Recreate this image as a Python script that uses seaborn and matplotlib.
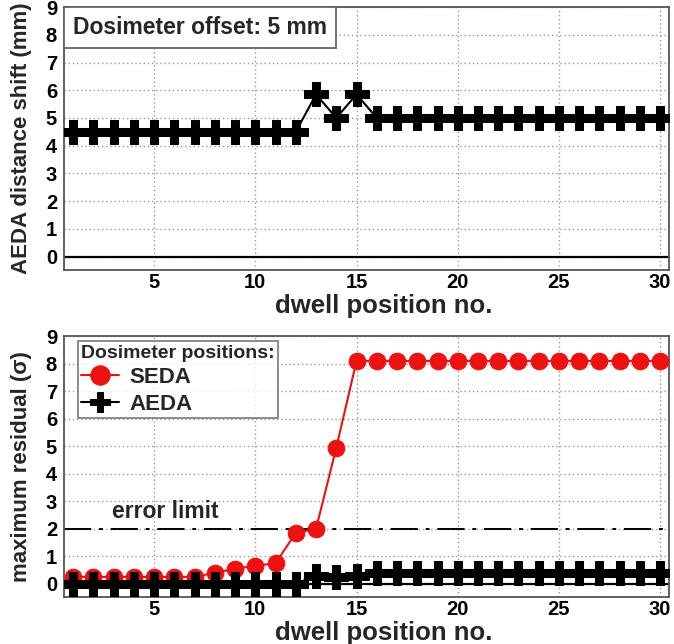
import numpy as np
import pandas as pd
import seaborn as sns
import matplotlib.pyplot as plt
from matplotlib.patches import Rectangle
from matplotlib.ticker import MultipleLocator

# dwell positions 1..30
positions = list(range(1, 31))

# top panel: AEDA distance shift (mm)
aeda_shift = [4.5] * 12 + [5.85, 5.0, 5.85] + [5.0] * 15

# bottom panel: maximum residual (sigma)
seda_resid = [0.25] * 7 + [0.4, 0.55, 0.65, 0.75, 1.85, 2.0, 4.95] + [8.1] * 16
aeda_resid = [0.0] * 12 + [0.3, 0.25, 0.3] + [0.4] * 15

error_limit = 2.0

sns.set_style("white")
plt.rcParams['font.family'] = ['Liberation Sans', 'DejaVu Sans']
plt.rcParams['font.weight'] = 'bold'
plt.rcParams['axes.labelweight'] = 'bold'

top = pd.DataFrame({"pos": positions, "shift": aeda_shift})
bot = pd.DataFrame({"pos": positions * 2,
                    "resid": seda_resid + aeda_resid,
                    "method": ["SEDA"] * 30 + ["AEDA"] * 30})

fig = plt.figure(figsize=(6.74, 6.44), dpi=100)
ax1 = fig.add_axes([0.095, 0.581, 0.898, 0.408])
ax2 = fig.add_axes([0.095, 0.073, 0.898, 0.405])


def style_axes(ax, ylabel):
    ax.set_xlim(0.55, 30.45)
    ax.set_ylim(-0.48, 9)
    ax.xaxis.set_major_locator(MultipleLocator(5))
    ax.xaxis.set_minor_locator(MultipleLocator(1))
    ax.yaxis.set_major_locator(MultipleLocator(1))
    ax.yaxis.set_minor_locator(MultipleLocator(0.2))
    ax.grid(True, which='major', color='#999999', linestyle=(0, (1, 2)), linewidth=1)
    ax.tick_params(which='both', direction='in', width=1.2, colors='#333333',
                   labelcolor='black')
    ax.tick_params(axis='x', which='major', length=5, labelsize=14.5, pad=2)
    ax.tick_params(axis='x', which='minor', length=3)
    ax.tick_params(axis='y', which='major', length=11, labelsize=14.5, pad=5)
    ax.tick_params(axis='y', which='minor', length=6)
    for s in ax.spines.values():
        s.set_color('#555555')
        s.set_linewidth(1.3)
    ax.axhline(0, color='black', linewidth=1.6, zorder=1)
    ax.set_xlabel("dwell position no.", fontsize=18.5)
    ax.xaxis.set_label_coords(0.529, -0.092)
    ax.set_ylabel(ylabel, fontsize=16, labelpad=10)


# top panel
sns.lineplot(data=top, x="pos", y="shift", ax=ax1, color='black', marker='P',
             markersize=17, markeredgecolor='black', linewidth=1.5, zorder=3)
style_axes(ax1, "AEDA distance shift (mm)")
ax1.add_patch(Rectangle((0.0, 0.844), 0.45, 0.156, transform=ax1.transAxes,
                        facecolor='white', edgecolor='#666666', linewidth=1.3, zorder=4))
ax1.text(0.225, 0.922, "Dosimeter offset: 5 mm", transform=ax1.transAxes, fontsize=16.5,
         va='center', ha='center', zorder=5)

# bottom panel
sns.lineplot(data=bot, x="pos", y="resid", hue="method", style="method",
             palette={"SEDA": "#ee1111", "AEDA": "black"},
             markers={"SEDA": "o", "AEDA": "P"}, dashes=False,
             markersize=14, markeredgecolor=None, linewidth=1.5, ax=ax2, zorder=3)
for line, ms in zip(ax2.lines, [12, 17]):
    line.set_markersize(ms)
ax2.axhline(error_limit, color='black', linewidth=1.4, linestyle=(0, (14, 4, 2, 4)), zorder=1)
ax2.text(2.9, 2.22, "error limit", fontsize=16.5, ha='left', va='bottom')
style_axes(ax2, "maximum residual (\u03c3)")

handles, labels = ax2.get_legend_handles_labels()
leg = ax2.legend(handles, labels, title="Dosimeter positions:", loc='upper left',
                 bbox_to_anchor=(0.023, 0.98), borderaxespad=0, fontsize=16,
                 title_fontsize=14, frameon=True, fancybox=False, borderpad=0.15,
                 handlelength=1.7, handletextpad=0.45, labelspacing=0.25,
                 alignment='left')
leg.get_frame().set_edgecolor('#666666')
leg.get_frame().set_linewidth(1.3)
leg.get_title().set_fontweight('bold')

fig.savefig("out.png", dpi=100)
